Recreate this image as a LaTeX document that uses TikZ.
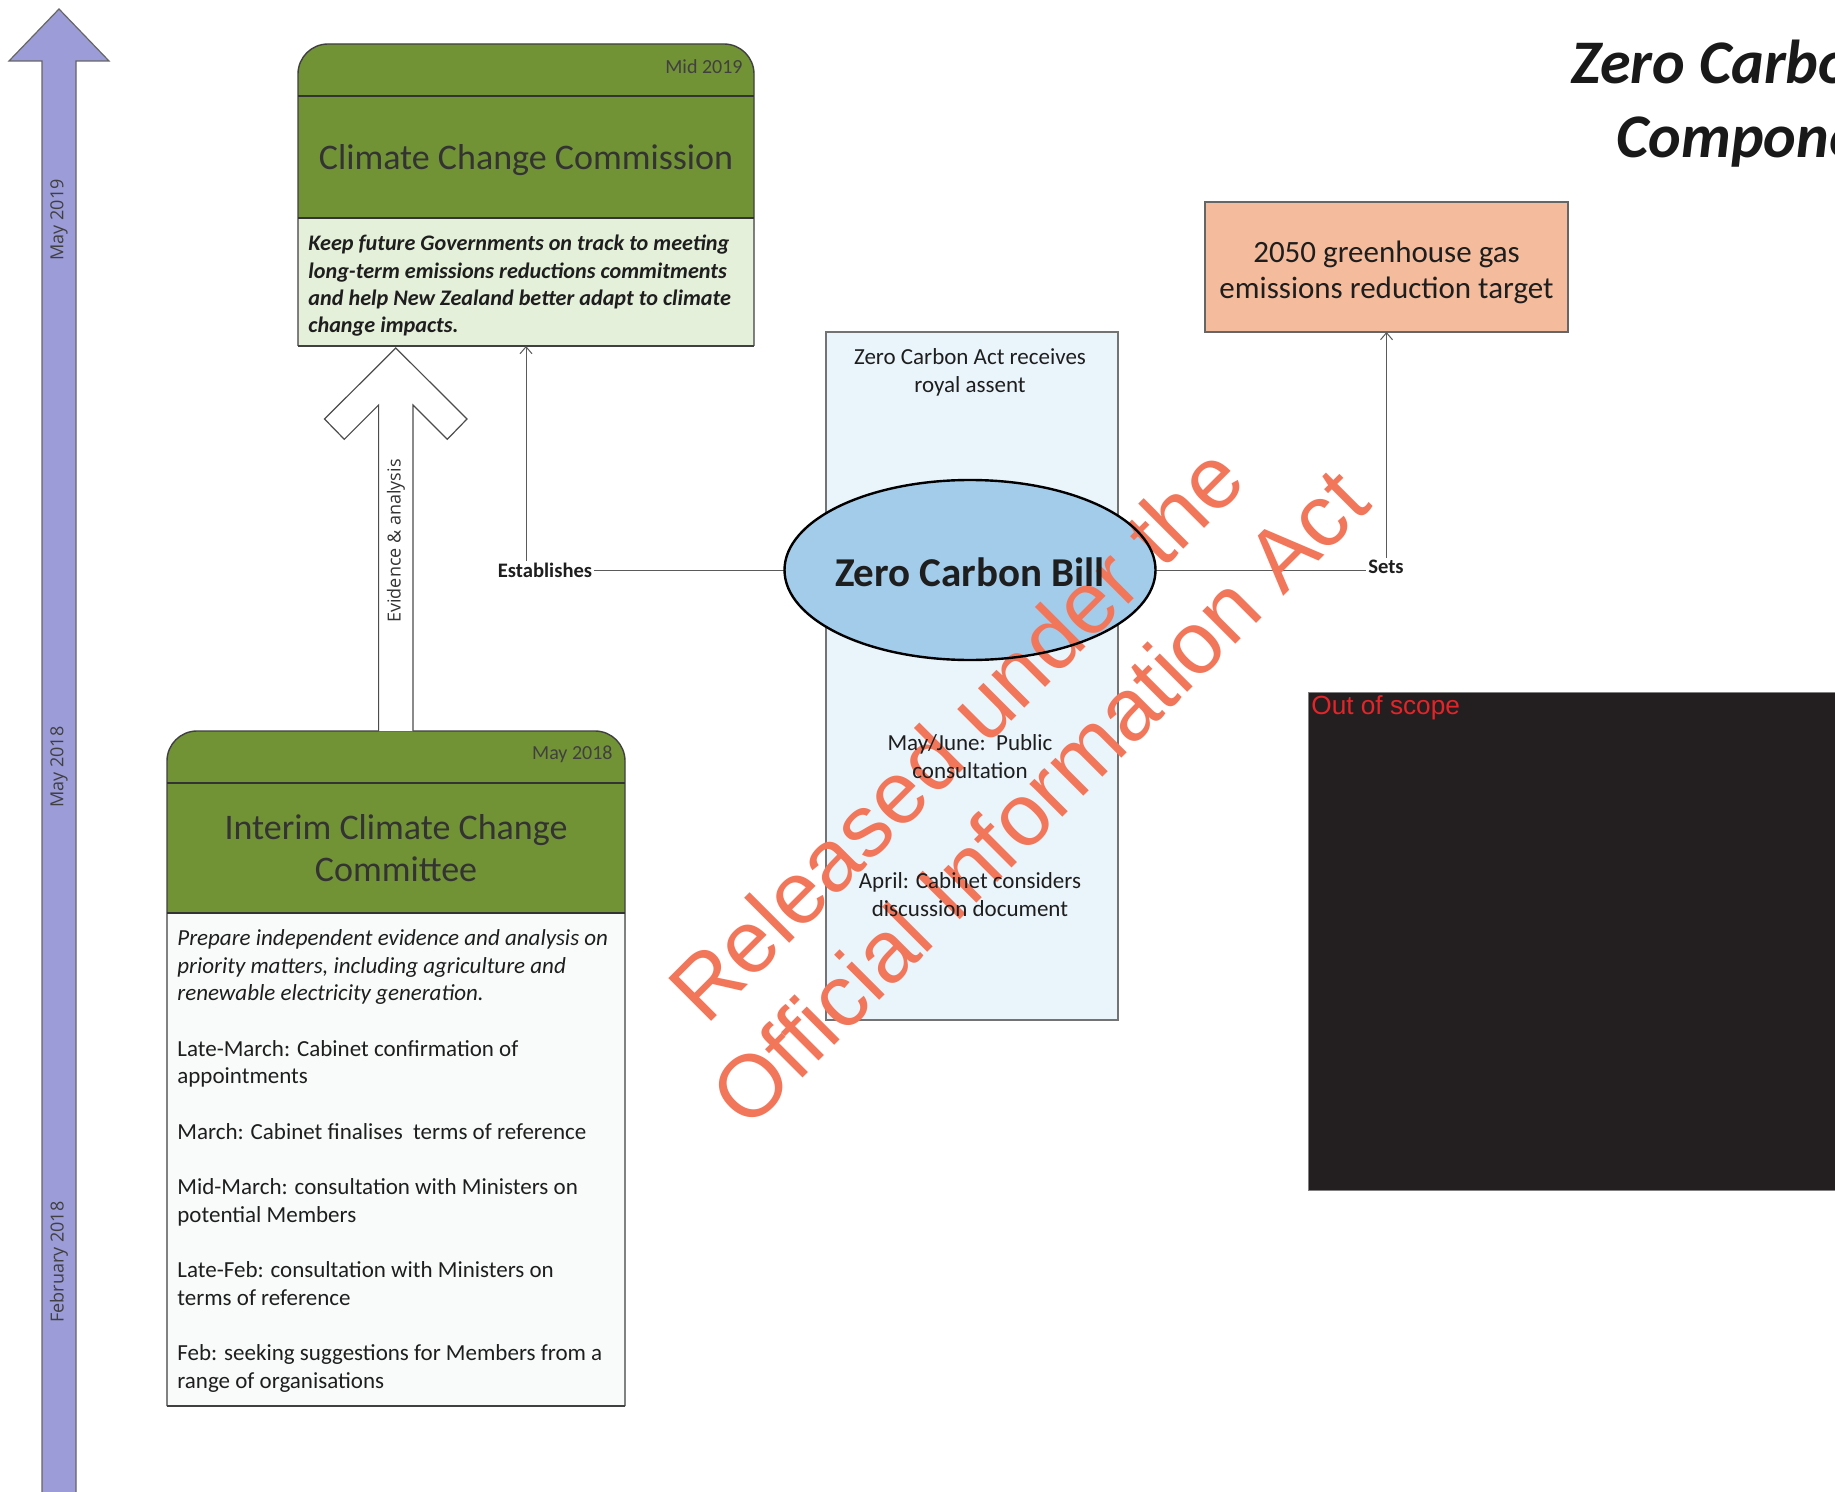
\documentclass[tikz,border=0pt]{standalone}
\usepackage{fontspec}
\setmainfont{Carlito}
\newfontfamily\osans{Open Sans}
\newfontfamily\arialf{Liberation Sans}
\usetikzlibrary{shapes.geometric,arrows.meta}
\definecolor{ggreen}{RGB}{114,146,54}
\definecolor{cccdesc}{RGB}{228,240,218}
\definecolor{ibodyfill}{RGB}{249,251,251}
\definecolor{billcolfill}{RGB}{234,244,251}
\definecolor{billfill}{RGB}{163,204,234}
\definecolor{targetfill}{RGB}{244,188,156}
\definecolor{tlfill}{RGB}{155,156,216}
\definecolor{wmcol}{RGB}{241,118,90}
\definecolor{oosfill}{RGB}{35,31,32}
\definecolor{oosred}{RGB}{228,36,40}
\definecolor{linegray}{RGB}{90,90,90}
\definecolor{txt}{RGB}{30,30,30}
\begin{document}
\begin{tikzpicture}[x=0.5pt,y=-0.5pt,
  boxline/.style={draw=black!75, line width=0.7pt},
  sepline/.style={draw=black!80, line width=1pt},
  datelbl/.style={inner sep=0pt, anchor=east, text=black!75, font=\fontsize{10pt}{12pt}\selectfont},
  headtitle/.style={inner sep=0pt, align=center, text=black!80, font=\fontsize{18pt}{21pt}\selectfont},
  tllbl/.style={inner sep=0pt, rotate=90, text=black!75, font=\osans\fontsize{9pt}{11pt}\selectfont},
  coltext/.style={inner sep=0pt, align=center, text=txt, font=\fontsize{11.5pt}{14pt}\selectfont},
  conn/.style={draw=linegray, line width=0.5pt, -{Straight Barb[length=3.5pt,width=6pt]}},
  connlbl/.style={fill=white, inner sep=1pt, text=txt, font=\bfseries\fontsize{10.3pt}{12pt}\selectfont},
  frame/.style={inner sep=0pt, outer sep=0pt, draw=none}
]
\clip (0,0) rectangle (1835,1492);
\fill[white] (0,0) rectangle (1835,1492);

% ---------- timeline arrow ----------
\draw[fill=tlfill, draw=black!60, line width=0.6pt]
  (42,1510) -- (42,61) -- (9,61) -- (59,9) -- (109,61) -- (76,61) -- (76,1510) -- cycle;
\node[tllbl] (t1) at (59,220) {May 2019};
\node[tllbl] (t2) at (59,767) {May 2018};
\node[tllbl] (t3) at (59,1262) {February 2018};

% ---------- Climate Change Commission ----------
\node[frame, minimum width=228pt, minimum height=151pt] (ccc) at (526,195) {};
\fill[ggreen, rounded corners=15pt] (298,44) rectangle (754,260);
\fill[cccdesc] (298,218) rectangle (754,346);
\draw[boxline, rounded corners=15pt] (298,346) -- (298,44) -- (754,44) -- (754,346);
\draw[boxline] (298,346) -- (754,346);
\draw[sepline] (298,96) -- (754,96);
\draw[sepline] (298,218) -- (754,218);
\node[datelbl] (cccdate) at (743,67) {Mid 2019};
\node[headtitle] (ccctitle) at (526,160) {Climate Change Commission};
\node[inner sep=0pt, anchor=north west, align=left, text=txt,
      font=\bfseries\itshape\fontsize{11.1pt}{13.65pt}\selectfont] (cccdesc) at (308,235)
  {Keep future Governments on track to meeting\\
   long-term emissions reductions commitments\\
   and help New Zealand better adapt to climate\\
   change impacts.};

% ---------- Interim Climate Change Committee ----------
\node[frame, minimum width=229pt, minimum height=337.5pt] (icc) at (396,1068.5) {};
\fill[ggreen, rounded corners=15pt] (167,731) rectangle (625,960);
\fill[ibodyfill] (167,913) rectangle (625,1406);
\draw[boxline, rounded corners=15pt] (167,1406) -- (167,731) -- (625,731) -- (625,1406);
\draw[boxline] (167,1406) -- (625,1406);
\draw[sepline] (167,783) -- (625,783);
\draw[sepline] (167,913) -- (625,913);
\node[datelbl] (iccdate) at (613,754) {May 2018};
\node[headtitle] (icctitle) at (396,848) {Interim Climate Change\\Committee};
\node[inner sep=0pt, anchor=north west, align=left, text=txt,
      font=\fontsize{11.5pt}{13.85pt}\selectfont] (iccbody) at (177,929)
  {\textit{Prepare independent evidence and analysis on}\\
   \textit{priority matters, including agriculture and}\\
   \textit{renewable electricity generation.}\\[13.85pt]
   Late-March: Cabinet confirmation of\\
   appointments\\[13.85pt]
   March: Cabinet finalises\ \ terms of reference\\[13.85pt]
   Mid-March: consultation with Ministers on\\
   potential Members\\[13.85pt]
   Late-Feb: consultation with Ministers on\\
   terms of reference\\[13.85pt]
   Feb: seeking suggestions for Members from a\\
   range of organisations};

% ---------- hollow arrow: evidence & analysis ----------
\draw[fill=white, draw=black!70, line width=0.6pt]
  (378.6,731) -- (378.6,405) -- (344.3,439.3) -- (324.5,419) -- (395.8,348)
  -- (467,419) -- (447.3,439.3) -- (413,405) -- (413,731);
\node[inner sep=0pt, rotate=90, text=black!80, font=\osans\fontsize{9pt}{11pt}\selectfont] (ev) at (396,541) {Evidence \& analysis};

% ---------- Zero Carbon Bill column ----------
\node[frame, draw=black!55, line width=0.6pt, fill=billcolfill, minimum width=146pt, minimum height=344pt] (col) at (972,676) {};

% ---------- target ----------
\node[frame, draw=black!60, line width=0.6pt, fill=targetfill, minimum width=181.5pt, minimum height=65pt] (target) at (1386.5,267) {};
\node[inner sep=0pt, align=center, text=txt, font=\fontsize{15.5pt}{18pt}\selectfont] (targettext) at (1386.5,272)
  {2050 greenhouse gas\\emissions reduction target};

% ---------- bill ellipse (fill) ----------
\node[ellipse, inner sep=0pt, outer sep=0pt, fill=billfill, minimum width=185.5pt, minimum height=90pt] (bill) at (970,570) {};

% ---------- connectors ----------
\draw[conn] (bill.west) -| (ccc.south);
\draw[conn] (bill.east) -| (target.south);
\node[connlbl] (est) at (545,570) {Establishes};
\node[connlbl] (sets) at (1386,567) {Sets};

% ---------- out of scope ----------
\fill[oosfill] (1308,692) rectangle (1840,1190);
\draw[black!50, line width=0.5pt] (1840,692) -- (1308,692) -- (1308,1190) -- (1840,1190);
\node[inner sep=0pt, anchor=base west, text=oosred, font=\arialf\fontsize{13.1pt}{15pt}\selectfont] (oos) at (1311,714) {Out of scope};

% ---------- title ----------
\node[inner sep=0pt, anchor=base west, text=black!90, font=\bfseries\itshape\fontsize{31pt}{36pt}\selectfont] (title1) at (1571,84) {Zero Carbo};
\node[inner sep=0pt, anchor=base west, text=black!90, font=\bfseries\itshape\fontsize{31pt}{36pt}\selectfont] (title2) at (1616,158) {Compone};

% ---------- watermark ----------
\node[inner sep=0pt, rotate=45, align=center, text=wmcol, font=\arialf\fontsize{44pt}{52pt}\selectfont] (wm) at (1002,760)
  {Released under the\hspace*{14pt}\\Official Information Act};

% ---------- outline and texts above the watermark ----------
\draw[black, line width=1.2pt] (bill.center) ellipse [x radius=185.5, y radius=90];
\node[inner sep=0pt, text=txt, font=\bfseries\fontsize{20.5pt}{24pt}\selectfont] (billtext) at (970,572) {Zero Carbon Bill};
\node[coltext] (c1) at (970,372) {Zero Carbon Act receives\\royal assent};
\node[coltext] (c2) at (970,757) {May/June:\ \ Public\\consultation};
\node[coltext] (c3) at (970,895) {April: Cabinet considers\\discussion document};
\end{tikzpicture}
\end{document}
